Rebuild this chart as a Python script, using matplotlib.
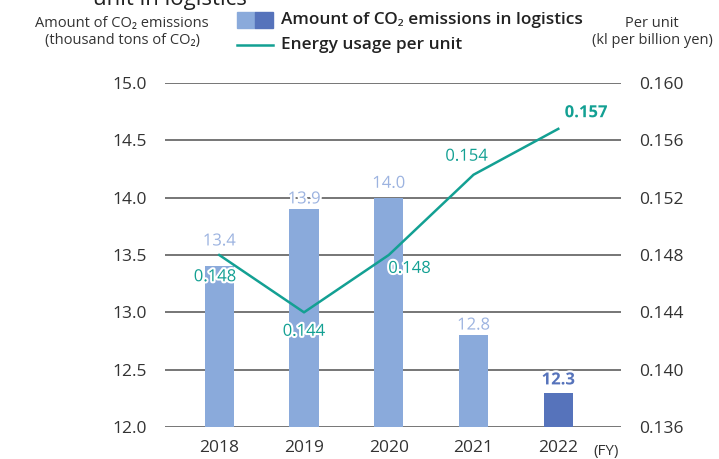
import matplotlib.pyplot as plt
import matplotlib.patheffects as pe
from matplotlib.patches import Rectangle
from matplotlib.lines import Line2D

plt.rcParams['font.family'] = ['Open Sans', 'Noto Sans', 'DejaVu Sans']

years = ['2018', '2019', '2020', '2021', '2022']
co2 = [13.4, 13.9, 14.0, 12.8, 12.3]
co2_labels = ['13.4', '13.9', '14.0', '12.8', '12.3']
energy = [0.148, 0.144, 0.148, 0.1536, 0.1568]
energy_labels = ['0.148', '0.144', '0.148', '0.154', '0.157']

light_blue = '#8aaadb'
dark_blue = '#5673bb'
label_blue = '#9cb3e0'
teal = '#13a093'
grid_col = '#6b6b6b'

fig = plt.figure(figsize=(7.19, 4.59), dpi=100)
ax = fig.add_axes([0.2295, 0.0697, 0.6342, 0.7495])
ax2 = ax.twinx()

x = list(range(len(years)))
colors = [light_blue] * 4 + [dark_blue]
ax.bar(x, [v - 12.0 for v in co2], bottom=12.0, width=0.345, color=colors, zorder=2)

ax.set_ylim(12.0, 15.0)
ax.set_yticks([12.0, 12.5, 13.0, 13.5, 14.0, 14.5, 15.0])
ax.set_yticklabels(['12.0', '12.5', '13.0', '13.5', '14.0', '14.5', '15.0'])
ax.set_xlim(-0.64, 4.74)
ax.set_xticks(x)
ax.set_xticklabels(years)
ax.grid(axis='y', color=grid_col, linewidth=1.3, zorder=0)
ax.set_axisbelow(True)
for s in ax.spines.values():
    s.set_visible(False)
for s in ax2.spines.values():
    s.set_visible(False)
ax.tick_params(axis='y', length=0, pad=13, labelsize=12.5, labelcolor='#333333')
ax.tick_params(axis='x', length=0, pad=9, labelsize=12.5, labelcolor='#333333')

ax2.plot(x, energy, color=teal, linewidth=1.8, zorder=3)
ax2.set_ylim(0.136, 0.160)
ax2.set_yticks([0.136, 0.140, 0.144, 0.148, 0.152, 0.156, 0.160])
ax2.set_yticklabels(['0.136', '0.140', '0.144', '0.148', '0.152', '0.156', '0.160'])
ax2.tick_params(axis='y', length=0, pad=13, labelsize=12.5, labelcolor='#333333')

halo = [pe.withStroke(linewidth=3, foreground='white')]

# bar value labels
bar_off = [(0, 18), (0, 7), (0, 10), (0, 7), (0, 9.5)]
for i, (v, t) in enumerate(zip(co2, co2_labels)):
    bold = i == 4
    ax.annotate(t, (x[i], v), xytext=bar_off[i], textcoords='offset points',
                ha='center', va='center', fontsize=12,
                color=dark_blue if bold else label_blue,
                fontweight='bold' if bold else 'normal',
                path_effects=halo, zorder=5)

# line value labels
line_off = [(-3, -16), (0, -14), (15, -10), (-5, 13), (20, 12)]
for i, (v, t) in enumerate(zip(energy, energy_labels)):
    bold = i == 4
    ax2.annotate(t, (x[i], v), xytext=line_off[i], textcoords='offset points',
                 ha='center', va='center', fontsize=12, color=teal,
                 fontweight='bold' if bold else 'normal',
                 path_effects=halo, zorder=6)

# (FY)
ax.text(4.41, -0.05, '(FY)', transform=ax.get_xaxis_transform(),
        ha='left', va='top', fontsize=11, color='#333333')

# axis titles
fig.text(0.17, 0.93, 'Amount of CO₂ emissions\n(thousand tons of CO₂)',
         ha='center', va='center', fontsize=10.5, color='#333333', linespacing=1.15)
fig.text(0.907, 0.93, 'Per unit\n(kl per billion yen)',
         ha='center', va='center', fontsize=10.5, color='#333333', linespacing=1.15)

# clipped title fragment at the very top
fig.text(0.236, 0.99, 'unit in logistics', ha='center', va='baseline',
         fontsize=16, color='#222222')

# legend
fig.patches.append(Rectangle((237 / 719, 1 - 28 / 459), 18 / 719, 16 / 459,
                             transform=fig.transFigure, color=light_blue))
fig.patches.append(Rectangle((255 / 719, 1 - 28 / 459), 18 / 719, 16 / 459,
                             transform=fig.transFigure, color=dark_blue))
fig.text(281 / 719, 1 - 20 / 459, 'Amount of CO₂ emissions in logistics',
         ha='left', va='center', fontsize=12.4, fontweight='semibold', color='#222222')
fig.lines.append(Line2D([237 / 719, 273 / 719], [1 - 45 / 459, 1 - 45 / 459],
                        transform=fig.transFigure, color=teal, linewidth=1.8))
fig.text(281 / 719, 1 - 45 / 459, 'Energy usage per unit',
         ha='left', va='center', fontsize=12.4, fontweight='semibold', color='#222222')

fig.savefig('out.png', dpi=100)
